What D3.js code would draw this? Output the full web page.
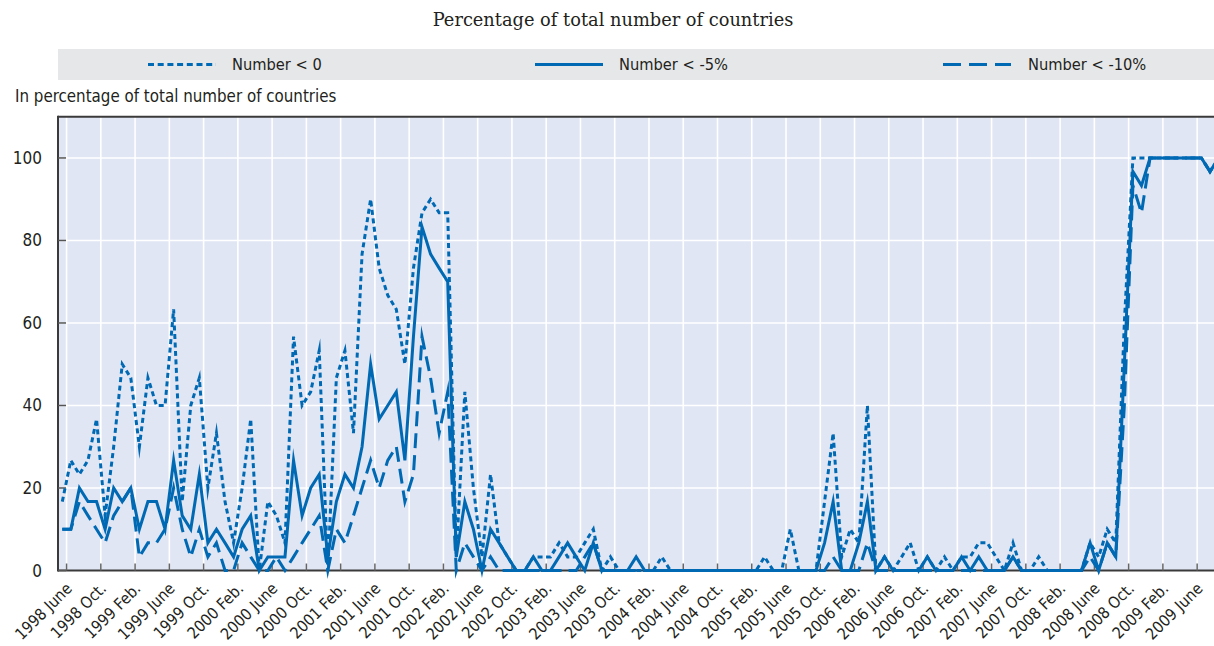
<!DOCTYPE html>
<html>
<head>
<meta charset="utf-8">
<script src="https://cdn.jsdelivr.net/npm/d3@7"></script>
<style>
  html, body { margin: 0; padding: 0; background: #ffffff; }
  svg { display: block; }
  .sans { font-family: "Liberation Sans Narrow", "DejaVu Sans Condensed", "Liberation Sans", sans-serif; fill: #231f20; }
  .serif { font-family: "DejaVu Serif", "Liberation Serif", serif; fill: #231f20; }
</style>
</head>
<body>
<svg id="chart" width="1214" height="646"></svg>
<script>
// ---- DATA ----
const startYear = 1998, startMonth = 4; // first point: 1998 May (0-based month index 4)
const monthNames = ["Jan.", "Feb.", "Mar.", "Apr.", "May", "June", "July", "Aug.", "Sep.", "Oct.", "Nov.", "Dec."];

// Number < 0 (dotted)
const seriesLt0 = [
  16.7, 26.7, 23.3, 26.7, 36.7, 13.3, 30, 50, 46.7, 30,
  46.7, 40, 40, 63.3, 16.7, 40, 46.7, 20, 33.3, 16.7,
  6.7, 20, 36.7, 0, 16.7, 13.3, 6.7, 56.7, 40, 43.3,
  53.3, 0, 46.7, 53.3, 33.3, 76.7, 90, 73.3, 66.7, 63.3,
  50, 73.3, 86.7, 90, 86.7, 86.7, 3.3, 43.3, 20, 3.3,
  23.3, 6.7, 3.3, 0, 0, 3.3, 3.3, 3.3, 6.7, 3.3,
  3.3, 6.7, 10, 0, 3.3, 0, 0, 0, 0, 0,
  3.3, 0, 0, 0, 0, 0, 0, 0, 0, 0,
  0, 0, 3.3, 0, 0, 10, 0, 0, 0, 16.7,
  33.3, 3.3, 10, 6.7, 40, 0, 3.3, 0, 3.3, 6.7,
  0, 3.3, 0, 3.3, 0, 3.3, 3.3, 6.7, 6.7, 3.3,
  0, 6.7, 0, 0, 3.3, 0, 0, 0, 0, 0,
  6.7, 3.3, 10, 6.7, 60, 100, 100, 100, 100, 100,
  100, 100, 100, 100, 96.7, 100
];

// Number < -5% (solid)
const seriesLt5 = [
  10, 10, 20, 16.7, 16.7, 10, 20, 16.7, 20, 10,
  16.7, 16.7, 10, 26.7, 13.3, 10, 23.3, 6.7, 10, 6.7,
  3.3, 10, 13.3, 0, 3.3, 3.3, 3.3, 26.7, 13.3, 20,
  23.3, 3.3, 16.7, 23.3, 20, 30, 50, 36.7, 40, 43.3,
  26.7, 56.7, 83.3, 76.7, 73.3, 70, 3.3, 16.7, 10, 0,
  10, 6.7, 3.3, 0, 0, 3.3, 0, 0, 3.3, 6.7,
  3.3, 0, 6.7, 0, 0, 0, 0, 3.3, 0, 0,
  0, 0, 0, 0, 0, 0, 0, 0, 0, 0,
  0, 0, 0, 0, 0, 0, 0, 0, 0, 6.7,
  16.7, 0, 0, 6.7, 16.7, 0, 3.3, 0, 0, 0,
  0, 3.3, 0, 0, 0, 3.3, 0, 3.3, 0, 0,
  0, 3.3, 0, 0, 0, 0, 0, 0, 0, 0,
  6.7, 0, 6.7, 3.3, 50, 96.7, 93.3, 100, 100, 100,
  100, 100, 100, 100, 96.7, 100
];

// Number < -10% (dashed)
const seriesLt10 = [
  10, 10, 16.7, 13.3, 10, 6.7, 13.3, 16.7, 20, 3.3,
  6.7, 6.7, 10, 20, 10, 3.3, 10, 3.3, 6.7, 0,
  0, 6.7, 3.3, 0, 0, 3.3, 0, 3.3, 6.7, 10,
  13.3, 0, 10, 6.7, 13.3, 20, 26.7, 20, 26.7, 30,
  16.7, 23.3, 56.7, 46.7, 33.3, 43.3, 0, 6.7, 3.3, 0,
  3.3, 0, 0, 0, 0, 0, 0, 0, 0, 0,
  0, 3.3, 6.7, 0, 0, 0, 0, 0, 0, 0,
  0, 0, 0, 0, 0, 0, 0, 0, 0, 0,
  0, 0, 0, 0, 0, 0, 0, 0, 0, 0,
  3.3, 0, 0, 0, 6.7, 0, 0, 0, 0, 0,
  0, 0, 0, 0, 0, 0, 0, 0, 0, 0,
  0, 3.3, 0, 0, 0, 0, 0, 0, 0, 0,
  3.3, 0, 6.7, 3.3, 40, 93.3, 86.7, 100, 100, 100,
  100, 100, 100, 100, 96.7, 100
];

const tickLabels = [
  "1998 June", "1998 Oct.", "1999 Feb.", "1999 June", "1999 Oct.", "2000 Feb.", "2000 June", "2000 Oct.",
  "2001 Feb.", "2001 June", "2001 Oct.", "2002 Feb.", "2002 June", "2002 Oct.", "2003 Feb.", "2003 June",
  "2003 Oct.", "2004 Feb.", "2004 June", "2004 Oct.", "2005 Feb.", "2005 June", "2005 Oct.", "2006 Feb.",
  "2006 June", "2006 Oct.", "2007 Feb.", "2007 June", "2007 Oct.", "2008 Feb.", "2008 June", "2008 Oct.",
  "2009 Feb.", "2009 June"
];
const yTicks = [0, 20, 40, 60, 80, 100];

const legendItems = [
  { label: "Number < 0", key: "lt0" },
  { label: "Number < -5%", key: "lt5" },
  { label: "Number < -10%", key: "lt10" }
];

// ---- categories (months) ----
const months = seriesLt0.map((_, i) => {
  const m = startMonth + i;
  return (startYear + Math.floor(m / 12)) + " " + monthNames[m % 12];
});

// ---- STYLES ----
const blue = "#0069b4";
const dashes = { lt0: "5,3.5", lt5: null, lt10: "15,7" };
const series = [
  { key: "lt0", values: seriesLt0 },
  { key: "lt5", values: seriesLt5 },
  { key: "lt10", values: seriesLt10 }
];

// ---- LAYOUT ----
const svg = d3.select("#chart");
const plot = { left: 58, top: 116.7, bottom: 570.5 };
const step = 8.565;
const x = d3.scaleBand().domain(months).range([plot.left, plot.left + months.length * step]).paddingInner(0).paddingOuter(0);
const y = d3.scaleLinear().domain([0, 110]).range([plot.bottom, plot.top]);
const cx = d => x(d) + x.bandwidth() / 2;

// subtitle
svg.append("text").attr("class", "serif")
  .attr("x", 613).attr("y", 26).attr("text-anchor", "middle")
  .style("font-size", "17.8px").text("Percentage of total number of countries");

// legend band
svg.append("rect").attr("x", 58).attr("y", 49).attr("width", 1214 - 58).attr("height", 31).attr("fill", "#e6e7e8");
const legendPos = [{ lx: 148, tx: 232 }, { lx: 535, tx: 619 }, { lx: 943, tx: 1028 }];
legendItems.forEach((it, i) => {
  const p = legendPos[i];
  svg.append("line").attr("x1", p.lx).attr("x2", p.lx + 68).attr("y1", 64.5).attr("y2", 64.5)
    .attr("stroke", blue).attr("stroke-width", 3)
    .attr("stroke-dasharray", it.key === "lt0" ? "6,3.7" : (it.key === "lt10" ? "18,8" : null));
  svg.append("text").attr("class", "sans").attr("x", p.tx).attr("y", 70)
    .style("font-size", "16.3px").text(it.label);
});

// y-axis title
svg.append("text").attr("class", "sans").attr("x", 15).attr("y", 102)
  .style("font-size", "16.8px").text("In percentage of total number of countries");

// plot background
const plotRight = plot.left + months.length * step;
svg.append("rect").attr("x", plot.left).attr("y", plot.top)
  .attr("width", plotRight - plot.left).attr("height", plot.bottom - plot.top).attr("fill", "#e0e6f4");

// tick positions (band start of labelled month)
const tickPositions = tickLabels.map(l => x(l));

// grid
const g = svg.append("g");
yTicks.filter(v => v > 0).forEach(v => {
  g.append("line").attr("x1", plot.left).attr("x2", plotRight).attr("y1", y(v)).attr("y2", y(v))
    .attr("stroke", "#ffffff").attr("stroke-width", 1.6);
});
tickPositions.forEach(px => {
  g.append("line").attr("x1", px).attr("x2", px).attr("y1", plot.top).attr("y2", plot.bottom)
    .attr("stroke", "#ffffff").attr("stroke-width", 1.6);
});

// frame: top, left, bottom
svg.append("line").attr("x1", plot.left).attr("x2", plotRight).attr("y1", plot.top).attr("y2", plot.top)
  .attr("stroke", "#3a3a3a").attr("stroke-width", 2);
svg.append("line").attr("x1", plot.left).attr("x2", plot.left).attr("y1", plot.top - 1).attr("y2", plot.bottom + 1)
  .attr("stroke", "#3a3a3a").attr("stroke-width", 2);
svg.append("line").attr("x1", plot.left).attr("x2", plotRight).attr("y1", plot.bottom).attr("y2", plot.bottom)
  .attr("stroke", "#3a3a3a").attr("stroke-width", 2);

// y ticks and labels
yTicks.forEach(v => {
  svg.append("line").attr("x1", plot.left).attr("x2", plot.left + 8).attr("y1", y(v)).attr("y2", y(v))
    .attr("stroke", "#555").attr("stroke-width", 1.5);
  svg.append("text").attr("class", "sans").attr("x", 42).attr("y", y(v) + 6)
    .attr("text-anchor", "end").style("font-size", "17px").text(v);
});

// x ticks and labels
tickPositions.forEach((px, i) => {
  svg.append("line").attr("x1", px).attr("x2", px).attr("y1", plot.bottom - 7).attr("y2", plot.bottom)
    .attr("stroke", "#666").attr("stroke-width", 1.5);
  svg.append("text").attr("class", "sans")
    .attr("transform", `translate(${px + 6.5},${plot.bottom + 19}) rotate(-45)`)
    .attr("text-anchor", "end").style("font-size", "16px").text(tickLabels[i]);
});

// lines
const line = d3.line().x((d, i) => cx(months[i])).y(d => y(d));
series.forEach(s => {
  svg.append("path").datum(s.values).attr("d", line)
    .attr("fill", "none").attr("stroke", blue).attr("stroke-width", 3)
    .attr("stroke-linejoin", "miter").attr("stroke-miterlimit", 10)
    .attr("stroke-dasharray", dashes[s.key]);
});
</script>
</body>
</html>
